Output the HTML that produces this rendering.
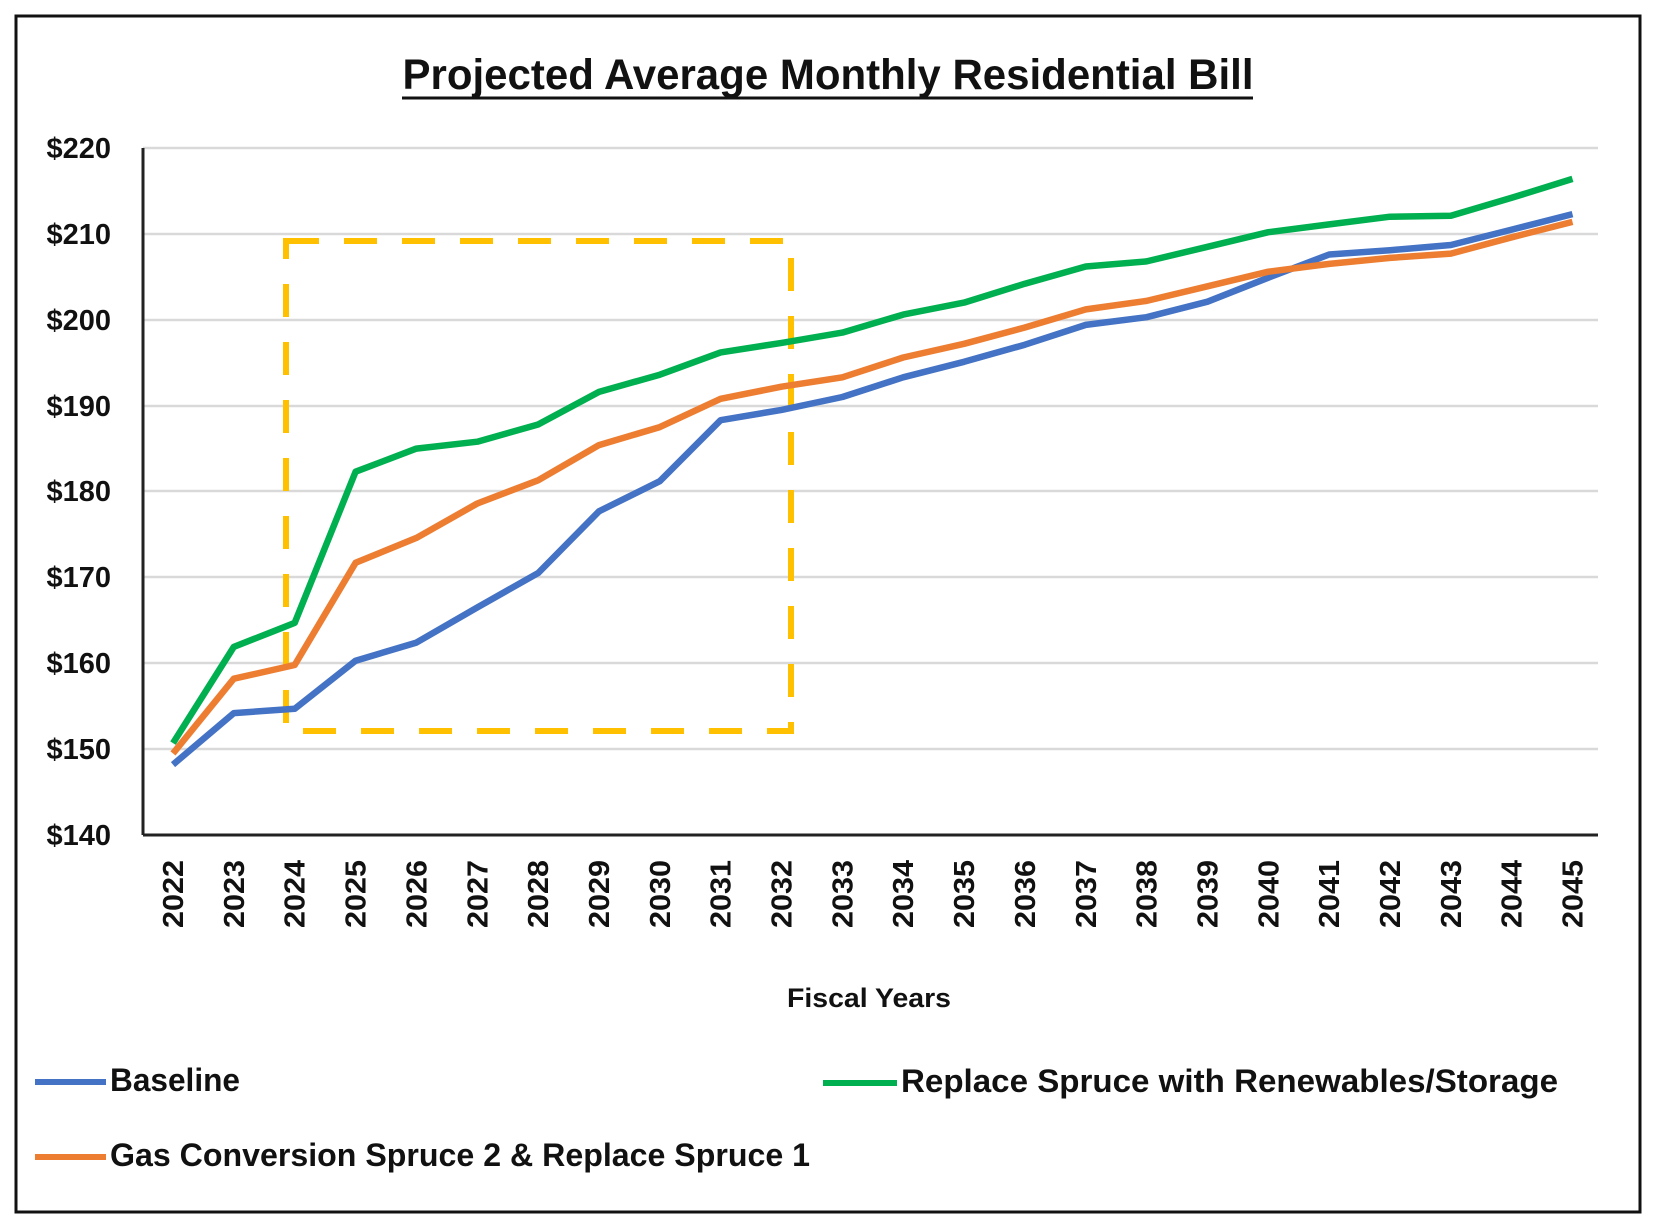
<!DOCTYPE html>
<html><head><meta charset="utf-8"><style>
html,body{margin:0;padding:0;background:#fff}
svg{display:block}
text{font-family:"Liberation Sans Narrow","Liberation Sans",sans-serif;font-weight:bold;fill:#111}
</style></head><body>
<svg width="1658" height="1232" viewBox="0 0 1658 1232" xmlns="http://www.w3.org/2000/svg">
<rect x="16" y="16" width="1624" height="1196" fill="#fff" stroke="#111" stroke-width="3"/>
<text x="828" y="89" font-size="43" text-anchor="middle" textLength="851" lengthAdjust="spacingAndGlyphs">Projected Average Monthly Residential Bill</text>
<line x1="402" y1="98" x2="1253" y2="98" stroke="#111" stroke-width="3"/>
<g stroke="#d9d9d9" stroke-width="2.5">
<line x1="143" y1="148" x2="1598" y2="148"/>
<line x1="143" y1="234" x2="1598" y2="234"/>
<line x1="143" y1="320" x2="1598" y2="320"/>
<line x1="143" y1="406" x2="1598" y2="406"/>
<line x1="143" y1="491" x2="1598" y2="491"/>
<line x1="143" y1="577" x2="1598" y2="577"/>
<line x1="143" y1="663" x2="1598" y2="663"/>
<line x1="143" y1="749" x2="1598" y2="749"/>
</g>
<line x1="143" y1="148" x2="143" y2="835" stroke="#222" stroke-width="3"/>
<line x1="143" y1="835" x2="1598" y2="835" stroke="#222" stroke-width="3"/>
<g font-size="29" text-anchor="end">
<text x="111" y="158">$220</text><text x="111" y="244">$210</text><text x="111" y="330">$200</text><text x="111" y="416">$190</text><text x="111" y="501">$180</text><text x="111" y="587">$170</text><text x="111" y="673">$160</text><text x="111" y="759">$150</text><text x="111" y="845">$140</text>
</g>
<g font-size="29" text-anchor="end" id="xl"></g>
<text x="869" y="1007" font-size="27" text-anchor="middle" textLength="164" lengthAdjust="spacingAndGlyphs">Fiscal Years</text>
<rect x="286" y="241" width="505" height="490" fill="none" stroke="#FFC000" stroke-width="6" stroke-dasharray="33 25"/>
<polyline id="b" fill="none" stroke="#4472C4" stroke-width="6.5" stroke-linejoin="round"/>
<polyline id="o" fill="none" stroke="#ED7D31" stroke-width="6.5" stroke-linejoin="round"/>
<polyline id="g" fill="none" stroke="#00B050" stroke-width="6.5" stroke-linejoin="round"/>
<line x1="35" y1="1082" x2="106" y2="1082" stroke="#4472C4" stroke-width="6"/>
<text x="110" y="1091" font-size="32" textLength="130" lengthAdjust="spacingAndGlyphs">Baseline</text>
<line x1="823" y1="1083" x2="897" y2="1083" stroke="#00B050" stroke-width="6"/>
<text x="901" y="1092" font-size="32" textLength="657" lengthAdjust="spacingAndGlyphs">Replace Spruce with Renewables/Storage</text>
<line x1="35" y1="1157" x2="106" y2="1157" stroke="#ED7D31" stroke-width="6"/>
<text x="110" y="1166" font-size="32" textLength="700" lengthAdjust="spacingAndGlyphs">Gas Conversion Spruce 2 &amp; Replace Spruce 1</text>
</svg>
<script>
var B=[148.2,154.2,154.7,160.3,162.4,166.5,170.5,177.7,181.2,188.3,189.5,191,193.3,195.1,197.1,199.4,200.3,202.1,204.9,207.6,208.1,208.7,210.5,212.3];
var O=[149.5,158.2,159.8,171.7,174.6,178.6,181.3,185.4,187.5,190.8,192.2,193.3,195.6,197.2,199.1,201.2,202.2,203.9,205.6,206.5,207.2,207.7,209.6,211.4];
var G=[150.7,161.9,164.7,182.3,185,185.8,187.8,191.6,193.6,196.2,197.3,198.5,200.6,202,204.2,206.2,206.8,208.5,210.2,211.1,212,212.1,214.2,216.4];
function X(i){return 173+60.85*i}function Y(v){return 835-(v-140)*8.5875}
function pts(a){return a.map(function(v,i){return X(i).toFixed(1)+","+Y(v).toFixed(1)}).join(" ")}
document.getElementById("b").setAttribute("points",pts(B));
document.getElementById("o").setAttribute("points",pts(O));
document.getElementById("g").setAttribute("points",pts(G));
var g=document.getElementById("xl"),ns="http://www.w3.org/2000/svg";
for(var i=0;i<24;i++){var t=document.createElementNS(ns,"text");var x=X(i)+10,y=860;
t.setAttribute("x",x);t.setAttribute("y",y);t.setAttribute("transform","rotate(-90 "+x+" "+y+")");
t.setAttribute("textLength","68");t.setAttribute("lengthAdjust","spacingAndGlyphs");t.textContent=2022+i;g.appendChild(t);}
</script>
</body></html>
